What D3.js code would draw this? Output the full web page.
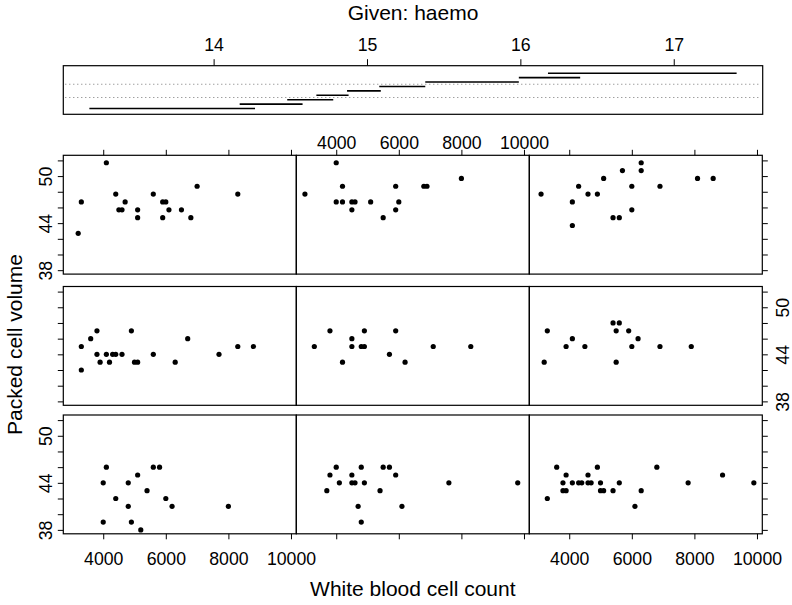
<!DOCTYPE html>
<html>
<head>
<meta charset="utf-8">
<script src="https://cdn.jsdelivr.net/npm/d3@7"></script>
<style>
  body { margin: 0; background: #fff; }
  svg { display: block; }
  text { font-family: "Liberation Sans", Arial, Helvetica, sans-serif; fill: #000; }
</style>
</head>
<body>
<div id="chart"></div>
<script>
// conditioning intervals of haemo (bottom bar first)
const haemoLo = [13.19, 14.17, 14.48, 14.67, 14.87, 15.08, 15.38, 15.99, 16.18];
const haemoHi = [14.27, 14.58, 14.78, 14.88, 15.09, 15.38, 15.99, 16.39, 17.41];
const haemoTicks = [14, 15, 16, 17];

const wbcTicks = [4000, 6000, 8000, 10000];
const pcvTicks = [38, 40, 42, 44, 46, 48, 50, 52];
const pcvLabels = [38, 44, 50];

// panel 1 = bottom left, then left to right, bottom to top
const wbc1 = [4000, 4100, 4000, 4400, 4800, 4800, 4900, 5100, 5200, 5400, 5600, 5800, 6000, 6200, 8000];
const pcv1 = [44, 46, 39, 42, 44, 41, 39, 45, 38, 43, 46, 46, 42, 41, 41];

const wbc2 = [3700, 3800, 4000, 4100, 4500, 4500, 4600, 4700, 4800, 4900, 4800, 5400, 5500, 5700, 5900, 6100, 7600, 9800];
const pcv2 = [43, 45, 46, 44, 45, 44, 44, 41, 46, 44, 39, 43, 46, 46, 45, 41, 44, 44];

const wbc3 = [3300, 3600, 3800, 3800, 3900, 3900, 4100, 4300, 4400, 4600, 4600, 4700, 4900, 5000, 5000, 5100, 5400, 5600, 6100, 6300, 6800, 7800, 8900, 9900];
const pcv3 = [42, 46, 44, 43, 43, 45, 44, 44, 44, 45, 44, 44, 46, 44, 43, 43, 43, 44, 41, 43, 46, 44, 45, 44];

const wbc4 = [3300, 3300, 3600, 3800, 3800, 3900, 4100, 4200, 4300, 4400, 4600, 4900, 5000, 5100, 5600, 6300, 6700, 7700, 8300, 8800];
const pcv4 = [45, 42, 46, 47, 44, 43, 44, 43, 44, 44, 44, 47, 43, 43, 44, 43, 46, 44, 45, 45];

const wbc5 = [3300, 3800, 4200, 4500, 4500, 4800, 4900, 4900, 5700, 5900, 6200, 7100, 8300];
const pcv5 = [45, 47, 43, 46, 45, 45, 45, 47, 44, 47, 43, 45, 45];

const wbc6 = [3200, 3300, 3900, 4100, 4500, 5400, 5600, 5500, 5500, 5900, 6200, 6000, 6900, 7900];
const pcv6 = [43, 47, 45, 46, 45, 48, 48, 47, 43, 47, 46, 45, 45, 45];

const wbc7 = [3200, 3300, 4100, 4400, 4700, 4500, 4600, 5100, 5100, 5600, 5900, 6000, 5900, 6100, 6500, 6800, 7000, 8300];
const pcv7 = [42.7, 46.7, 51.7, 47.7, 46.7, 45.7, 45.7, 45.7, 44.7, 47.7, 46.7, 46.7, 44.7, 45.7, 45.7, 44.7, 48.7, 47.7];

const wbc8 = [3000, 4000, 4200, 4000, 4200, 4500, 4600, 4500, 5100, 5500, 5900, 5900, 6000, 6800, 6900, 8000];
const pcv8 = [47.7, 51.7, 48.7, 46.7, 46.7, 46.7, 46.7, 45.7, 46.7, 44.7, 48.7, 45.7, 46.7, 48.7, 48.7, 49.7];

const wbc9 = [3100, 4100, 4100, 4300, 4600, 4900, 5100, 5400, 5600, 5700, 6000, 6000, 6300, 6300, 6900, 8100, 8600];
const pcv9 = [47.7, 46.7, 43.7, 48.7, 47.7, 47.7, 49.7, 44.7, 44.7, 50.7, 48.7, 45.7, 51.7, 50.7, 48.7, 49.7, 49.7];

const panelWbc = [wbc1, wbc2, wbc3, wbc4, wbc5, wbc6, wbc7, wbc8, wbc9];
const panelPcv = [pcv1, pcv2, pcv3, pcv4, pcv5, pcv6, pcv7, pcv8, pcv9];

function drawCoplot() {
    const svg = d3.select("#chart")
                  .append("svg")
                  .attr("width", 792)
                  .attr("height", 605);

    // 上の "Given" パネル
    const gLeft = 63.3, gRight = 762.7, gTop = 65.7, gBottom = 114.3;
    const gx = d3.scaleLinear().domain([13.02, 17.58]).range([gLeft, gRight]);
    const gy = d3.scaleLinear().domain([-0.3, 10.7]).range([gBottom, gTop]);

    svg.append("text")
       .attr("x", (gLeft + gRight) / 2)
       .attr("y", 20)
       .attr("text-anchor", "middle")
       .attr("font-size", "21px")
       .text("Given: haemo");

    [3.5, 6.5].forEach(v => {
        svg.append("line")
           .attr("x1", gLeft + 2).attr("x2", gRight - 2)
           .attr("y1", gy(v)).attr("y2", gy(v))
           .attr("stroke", "#777")
           .attr("stroke-width", 1)
           .attr("stroke-dasharray", "1,3");
    });

    svg.selectAll("line.bar")
       .data(haemoLo)
       .enter()
       .append("line")
       .attr("class", "bar")
       .attr("x1", d => gx(d))
       .attr("x2", (d, i) => gx(haemoHi[i]))
       .attr("y1", (d, i) => gy(i + 1))
       .attr("y2", (d, i) => gy(i + 1))
       .attr("stroke", "#000")
       .attr("stroke-width", 1.6);

    const gAxis = svg.append("g")
                     .attr("transform", `translate(0,${gTop})`)
                     .call(d3.axisTop(gx).tickValues(haemoTicks).tickSize(6.5).tickPadding(8.5).tickFormat(d3.format("d")));
    gAxis.select(".domain").remove();
    gAxis.selectAll("text").attr("font-size", "17.7px").attr("font-family", null);

    svg.append("rect")
       .attr("x", gLeft).attr("y", gTop)
       .attr("width", gRight - gLeft).attr("height", gBottom - gTop)
       .attr("fill", "none").attr("stroke", "#000").attr("stroke-width", 1.2);

    // 散布図パネル
    const left = 63.3, panelW = 233, panelH = 118.8;
    const rowTops = [155.3, 286.5, 415];
    const x = d3.scaleLinear().domain([2724, 10170]).range([0, panelW]);
    const y = d3.scaleLinear().domain([37.5, 52.65]).range([panelH, 0]);
    const tickLen = 5.5;

    panelWbc.forEach((wbc, k) => {
        const col = k % 3;
        const row = 2 - Math.floor(k / 3);
        const g = svg.append("g")
                     .attr("transform", `translate(${left + col * panelW},${rowTops[row]})`);

        // 軸
        if (row === 0) {
            const a = g.append("g")
                       .call(d3.axisTop(x).tickValues(wbcTicks).tickSize(tickLen).tickPadding(1)
                               .tickFormat(col === 1 ? d3.format("d") : () => ""));
            a.select(".domain").remove();
        }
        if (row === 2) {
            const a = g.append("g")
                       .attr("transform", `translate(0,${panelH})`)
                       .call(d3.axisBottom(x).tickValues(wbcTicks).tickSize(tickLen)
                               .tickFormat(col !== 1 ? d3.format("d") : () => ""));
            a.select(".domain").remove();
            a.selectAll("text").attr("dy", null).attr("y", 31.2);
        }
        if (col === 0) {
            const a = g.append("g")
                       .call(d3.axisLeft(y).tickValues(pcvTicks).tickSize(tickLen)
                               .tickFormat(d => (row !== 1 && pcvLabels.includes(d)) ? d : ""));
            a.select(".domain").remove();
            a.selectAll("text")
             .attr("x", null).attr("dy", null)
             .attr("text-anchor", "middle")
             .attr("transform", "translate(-11.8,0) rotate(-90)");
        }
        if (col === 2) {
            const a = g.append("g")
                       .attr("transform", `translate(${panelW},0)`)
                       .call(d3.axisRight(y).tickValues(pcvTicks).tickSize(tickLen)
                               .tickFormat(d => (row === 1 && pcvLabels.includes(d)) ? d : ""));
            a.select(".domain").remove();
            a.selectAll("text")
             .attr("x", null).attr("dy", null)
             .attr("text-anchor", "middle")
             .attr("transform", "translate(26.2,0) rotate(-90)");
        }
        g.selectAll(".tick line").attr("stroke", "#000");
        g.selectAll(".tick text").attr("font-size", "17.7px").attr("font-family", null).attr("fill", "#000");

        g.append("rect")
         .attr("width", panelW).attr("height", panelH)
         .attr("fill", "none").attr("stroke", "#000").attr("stroke-width", 1.2);

        g.selectAll("circle")
         .data(wbc)
         .enter()
         .append("circle")
         .attr("cx", d => x(d))
         .attr("cy", (d, i) => y(panelPcv[k][i]))
         .attr("r", 2.6)
         .attr("fill", "#000");
    });

    // 軸タイトル
    svg.append("text")
       .attr("x", left + 1.5 * panelW)
       .attr("y", 596)
       .attr("text-anchor", "middle")
       .attr("font-size", "21px")
       .text("White blood cell count");

    svg.append("text")
       .attr("transform", `translate(21.5,${(rowTops[0] + rowTops[2] + panelH) / 2}) rotate(-90)`)
       .attr("text-anchor", "middle")
       .attr("font-size", "21px")
       .text("Packed cell volume");
}

drawCoplot();
</script>
</body>
</html>
